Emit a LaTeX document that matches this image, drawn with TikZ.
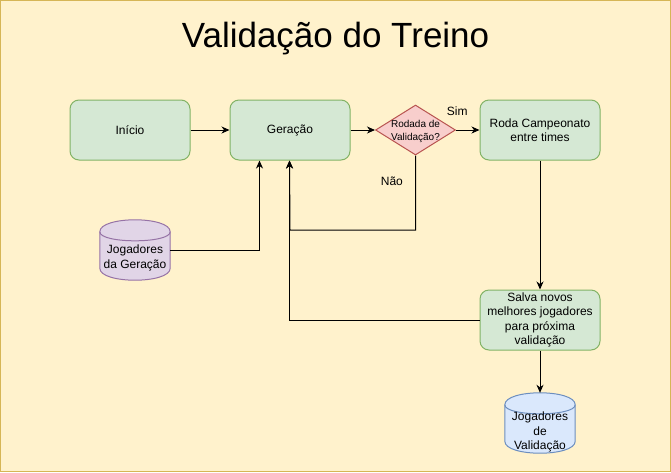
\documentclass[tikz,border=0pt]{standalone}
\usepackage{fontspec}
\setmainfont{Liberation Sans}
\usetikzlibrary{shapes.geometric,arrows.meta}
\definecolor{bgfill}{HTML}{FFF2CC}
\definecolor{bgstroke}{HTML}{D6B656}
\definecolor{grnfill}{HTML}{D5E8D4}
\definecolor{grnstroke}{HTML}{82B366}
\definecolor{redfill}{HTML}{F8CECC}
\definecolor{redstroke}{HTML}{B85450}
\definecolor{purfill}{HTML}{E1D5E7}
\definecolor{purstroke}{HTML}{9673A6}
\definecolor{blufill}{HTML}{DAE8FC}
\definecolor{blustroke}{HTML}{6C8EBF}
\begin{document}
\begin{tikzpicture}[x=1pt,y=-1pt,
  box/.style={draw=grnstroke, fill=grnfill, rounded corners=9pt, minimum width=120pt, minimum height=60pt, inner sep=0pt, align=center, font=\fontsize{12}{14.4}\selectfont, line width=1pt},
  decision/.style={diamond, draw=redstroke, fill=redfill, minimum width=80pt, minimum height=50pt, inner sep=0pt, line width=1pt},
  cylnode/.style={minimum width=70pt, minimum height=60pt, inner sep=0pt},
  txt/.style={align=center, inner sep=0pt, font=\fontsize{12}{14.4}\selectfont},
  small/.style={align=center, inner sep=0pt, font=\fontsize{10}{13}\selectfont},
  edge/.style={draw=black, line width=1pt, -{Stealth[length=8pt,width=7pt,inset=2.5pt]}},
  elabel/.style={inner sep=0pt, anchor=base west, font=\fontsize{12}{14.4}\selectfont}
]
\useasboundingbox (0,0) rectangle (671,472);
\draw[fill=bgfill, draw=bgstroke, line width=1pt] (0.5,0.5) rectangle (670.5,471.5);

% title
\node[anchor=base, inner sep=0pt, font=\fontsize{35}{40}\selectfont] (title) at (335.5,47.3) {Validação do Treino};

% process boxes
\node[box] (ini) at (130,130) {Início};
\node[box] (ger) at (290,130) {Geração};
\node[decision] (dia) at (415.5,130) {};
\node[small] (dialbl) at (415.5,131) {Rodada de\\Validação?};
\node[box] (roda) at (540,130) {Roda Campeonato\\entre times};
\node[box] (sal) at (540,320) {Salva novos\\melhores jogadores\\para próxima\\validação};

% cylinder: Jogadores da Geração
\node[cylnode] (jg) at (135,250) {};
\path[fill=purfill, draw=purstroke, line width=1pt]
  ([yshift=-12pt]jg.north west) .. controls ([yshift=4pt]jg.north west) and ([yshift=4pt]jg.north east) .. ([yshift=-12pt]jg.north east)
  -- ([yshift=12pt]jg.south east) .. controls ([yshift=-4pt]jg.south east) and ([yshift=-4pt]jg.south west) .. ([yshift=12pt]jg.south west) -- cycle;
\draw[draw=purstroke, line width=1pt]
  ([yshift=-12pt]jg.north west) .. controls ([yshift=-24pt]jg.north west) and ([yshift=-24pt]jg.north east) .. ([yshift=-12pt]jg.north east);
\node[txt] (jgt) at ([yshift=-8pt]jg.center) {Jogadores\\da Geração};

% cylinder: Jogadores de Validação
\node[cylnode] (jv) at (540,423) {};
\path[fill=blufill, draw=blustroke, line width=1pt]
  ([yshift=-12pt]jv.north west) .. controls ([yshift=4pt]jv.north west) and ([yshift=4pt]jv.north east) .. ([yshift=-12pt]jv.north east)
  -- ([yshift=12pt]jv.south east) .. controls ([yshift=-4pt]jv.south east) and ([yshift=-4pt]jv.south west) .. ([yshift=12pt]jv.south west) -- cycle;
\draw[draw=blustroke, line width=1pt]
  ([yshift=-12pt]jv.north west) .. controls ([yshift=-24pt]jv.north west) and ([yshift=-24pt]jv.north east) .. ([yshift=-12pt]jv.north east);
\node[txt] (jvt) at ([yshift=-9pt]jv.center) {Jogadores\\de\\Validação};

% connectors
\coordinate (g260) at ([xshift=30pt]ger.south west);
\coordinate (g290) at ([xshift=60pt]ger.south west);
\coordinate (nao) at (290,230);

\draw[edge] (ini.east) -- (ger.west);
\draw[edge] (ger.east) -- (dia.west);
\draw[edge] (dia.east) -- (roda.west);
\node[elabel] (sim) at (446.7,115) {Sim};
\draw[edge] (dia.south) |- (nao) -- (g290);
\node[elabel] (naol) at (380.7,185) {Não};
\draw[edge] (jg.east) -| (g260);
\draw[edge] (roda.south) -- (sal.north);
\draw[edge] (sal.west) -| (g290);
\draw[edge] (sal.south) -- (jv.north);
\end{tikzpicture}
\end{document}
